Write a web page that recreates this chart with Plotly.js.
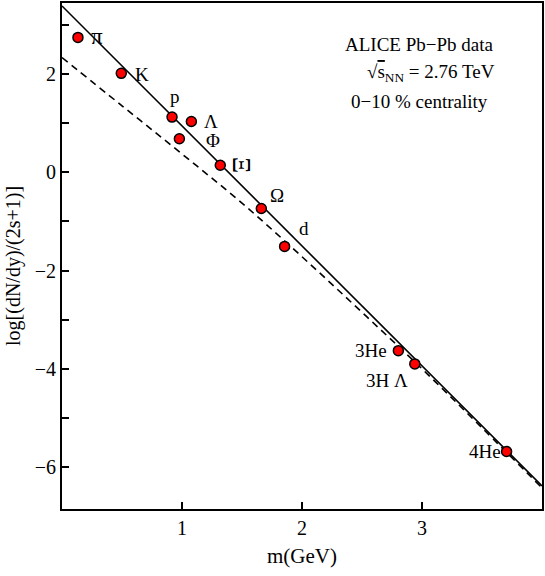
<!DOCTYPE html>
<html>
<head>
<meta charset="utf-8">
<script src="https://cdn.plot.ly/plotly-3.0.1.min.js"></script>
<style>
  body { margin: 0; background: #fff; }
  #myDiv { width: 545px; height: 576px; }
</style>
</head>
<body>
<div id="myDiv"></div>
<script>
// particle masses (GeV) and log yields
var names  = ['π', 'K', 'p', 'Λ', 'Φ', 'Ξ', 'Ω', 'd', '3He', '3H Λ', '4He'];
var mass   = [0.133, 0.494, 0.917, 1.078, 0.978, 1.319, 1.661, 1.855, 2.803, 2.94, 3.705];
var yields = [2.74, 2.01, 1.12, 1.03, 0.68, 0.14, -0.74, -1.51, -3.63, -3.90, -5.68];

// label offsets in px (dx right, dy down), angle and size
var labDx  = [19, 21, 3, 20, 34, 21, 16, 19, -27, -28, -22];
var labDy  = [-1, 1, -21, 0, 2, 0, -13, -18, 0, 17, 0];
var labAng = [0, 0, 0, 0, 0, 90, 0, 0, 0, 0, 0];
var labSz  = [23, 19, 19, 19, 19, 25, 19, 19, 19, 19, 19];

// solid fit line
var fitX = [0, 4];
var fitY = [3.38, -6.38];

// dashed curve
var dashX = [0, 0.5, 1.0, 1.5, 2.0, 2.5, 3.0, 3.5, 4.0];
var dashY = [2.33, 1.35, 0.37, -0.63, -1.72, -2.85, -4.0, -5.2, -6.42];

// y axis labelled ticks
var yTicks = [-6, -4, -2, 0, 2];
var yTickLabels = ['\u22126', '\u22124', '\u22122', '0', '2'];

var serif = 'Liberation Serif, Times New Roman, serif';

var solid = {
  x: fitX, y: fitY, mode: 'lines', type: 'scatter',
  line: {color: '#000', width: 1.6}, hoverinfo: 'skip'
};
var dashed = {
  x: dashX, y: dashY, mode: 'lines', type: 'scatter',
  line: {color: '#000', width: 1.6, dash: '7px,5px', shape: 'spline'}, hoverinfo: 'skip'
};
var pts = {
  x: mass, y: yields, mode: 'markers', type: 'scatter', text: names,
  marker: {color: '#ff0000', size: 10, line: {color: '#000', width: 1.5}}
};

var annots = [];
for (var i = 0; i < names.length; i++) {
  annots.push({
    x: mass[i], y: yields[i], xref: 'x', yref: 'y',
    text: names[i], showarrow: false,
    xshift: labDx[i], yshift: -labDy[i], textangle: labAng[i],
    font: {family: serif, size: labSz[i], color: '#000'}
  });
}
var info = [
  {text: 'ALICE Pb\u2212Pb data', x: 419, y: 45},
  {text: '\u221A<span style="text-decoration:overline">s</span><sub>NN</sub> = 2.76 TeV', x: 431, y: 73},
  {text: '0\u221210 % centrality', x: 419, y: 101}
];
info.forEach(function(t) {
  annots.push({
    text: t.text, showarrow: false, xref: 'paper', yref: 'paper',
    x: (t.x - 62) / (545 - 62 - 3), y: 1 - (t.y - 3) / (576 - 3 - 67),
    xanchor: 'center', yanchor: 'middle',
    font: {family: serif, size: 19, color: '#000'}
  });
});
// y axis title, placed a little below the axis middle as in the figure
annots.push({
  text: 'log[(dN/dy)/(2s+1)]', showarrow: false, textangle: -90,
  xref: 'paper', yref: 'paper',
  x: (13 - 62) / (545 - 62 - 3), y: 1 - (266 - 3) / (576 - 3 - 67),
  xanchor: 'center', yanchor: 'middle',
  font: {family: serif, size: 20, color: '#000'}
});

var layout = {
  width: 545, height: 576,
  margin: {l: 62, r: 3, t: 3, b: 67},
  paper_bgcolor: '#fff', plot_bgcolor: '#fff',
  showlegend: false,
  font: {family: serif, size: 20, color: '#000'},
  xaxis: {
    range: [0, 4], showgrid: false, zeroline: false,
    tickvals: [1, 2, 3], ticktext: ['1', '2', '3'],
    ticks: 'inside', ticklen: 7, tickwidth: 1.5, tickcolor: '#000',
    showline: true, linewidth: 2, linecolor: '#000', mirror: true,
    title: {text: 'm(GeV)', font: {family: serif, size: 21}, standoff: 10}
  },
  yaxis: {
    range: [-6.85, 3.44], showgrid: false, zeroline: false,
    tickvals: yTicks, ticktext: yTickLabels,
    ticks: 'inside', ticklen: 7, tickwidth: 1.5, tickcolor: '#000',
    minor: {ticks: 'inside', ticklen: 7, tickwidth: 1.5, tickcolor: '#000', tick0: 0, dtick: 1, showgrid: false},
    showline: true, linewidth: 2, linecolor: '#000', mirror: true
  },
  annotations: annots
};

Plotly.newPlot('myDiv', [solid, dashed, pts], layout, {displayModeBar: false});
</script>
</body>
</html>
